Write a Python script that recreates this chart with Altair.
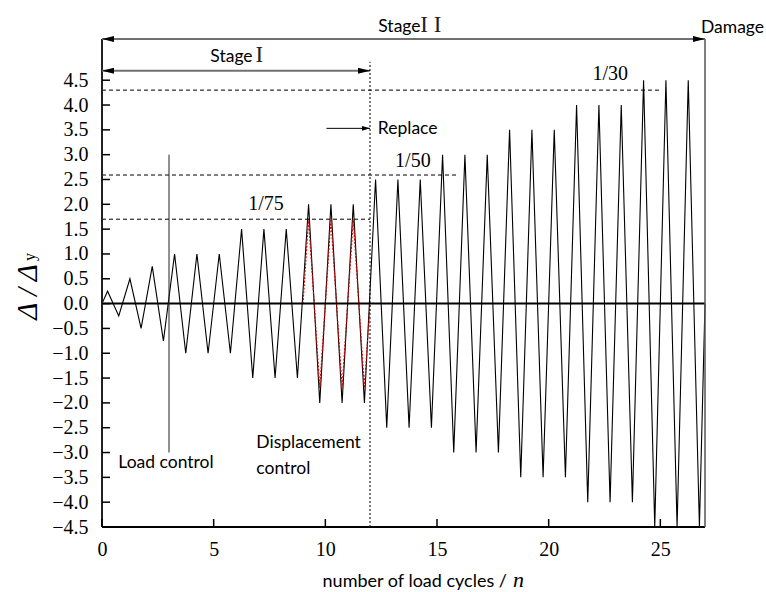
import altair as alt
import pandas as pd

# ---------------- data ----------------
amplitudes = [0.25, 0.5, 0.75, 1.0, 1.0, 1.0, 1.5, 1.5, 1.5, 2.0, 2.0, 2.0,
              2.5, 2.5, 2.5, 3.0, 3.0, 3.0, 3.5, 3.5, 3.5, 4.0, 4.0, 4.0,
              4.5, 4.5, 4.5]
peak_phase = 0.25
trough_phase = 0.75
red_cycles = [9, 10, 11]
red_amp = 1.7

ref_levels = [1.7, 2.59, 4.3]
ref_ends = [12.0, 15.9, 25.05]

drift_labels = ["1/75", "1/50", "1/30"]
drift_x = [7.34, 13.92, 22.76]
drift_y = [1.89, 2.76, 4.50]

sans_labels = ["Replace", "Load control", "Displacement", "control", "Damage", "Stage", "Stage"]
sans_x = [12.35, 0.73, 6.91, 6.91, 26.82, 4.85, 12.37]
sans_y = [3.42, -3.32, -2.91, -3.43, 5.45, 4.87, 5.48]

roman_labels = ["I", "I I"]
roman_x = [6.87, 14.25]
roman_y = [4.87, 5.48]

x_ticks = [0, 5, 10, 15, 20, 25]
y_ticks = [-4.5, -4.0, -3.5, -3.0, -2.5, -2.0, -1.5, -1.0, -0.5, 0.0,
           0.5, 1.0, 1.5, 2.0, 2.5, 3.0, 3.5, 4.0, 4.5]

X_MIN, X_MAX = 0, 27
Y_MIN, Y_TOP = -4.5, 5.33
stage1_end, stage1_y = 12, 4.69
stage2_y = Y_TOP
switch_x, switch_top = 12, 4.87
load_x, load_lo, load_hi = 3, -3.0, 3.0
replace_x0, replace_x1, replace_y = 10.05, 12, 3.53

# ---------------- tables ----------------
pts = [(0.0, 0.0)]
for i, a in enumerate(amplitudes):
    pts.append((i + peak_phase, a))
    pts.append((i + trough_phase, -a))
pts.append((float(len(amplitudes)), 0.0))
df_line = pd.DataFrame(pts, columns=["x", "y"])

rpts = [(float(red_cycles[0]), 0.0)]
for c in red_cycles:
    rpts.append((c + peak_phase, red_amp))
    rpts.append((c + trough_phase, -red_amp))
rpts.append((float(red_cycles[-1] + 1), 0.0))
df_red = pd.DataFrame(rpts, columns=["x", "y"])

xs = alt.Scale(domain=[X_MIN, X_MAX], nice=False, zero=False)
ys = alt.Scale(domain=[Y_MIN, Y_TOP], nice=False, zero=False)

SERIF = "Liberation Serif"
SANS = "Lato"

x_axis = alt.Axis(values=x_ticks, format="d", domain=False, ticks=False, grid=False,
                  labelFont=SERIF, labelFontSize=20, labelColor="black", labelPadding=12,
                  labelFlush=False, labelOverlap=False, title=None)
y_axis = alt.Axis(values=y_ticks, domain=False, ticks=False, grid=False,
                  labelExpr="replace(format(datum.value, '.1f'), '-', '\u2212')",
                  labelFont=SERIF, labelFontSize=20, labelColor="black", labelPadding=14,
                  labelFlush=False, labelOverlap=False, title=None)


def X(f="x"):
    return alt.X(f"{f}:Q", scale=xs, axis=x_axis)


def Y(f="y"):
    return alt.Y(f"{f}:Q", scale=ys, axis=y_axis)


main = alt.Chart(df_line).mark_line(color="black", strokeWidth=1.1).encode(x=X(), y=Y())

red = alt.Chart(df_red).mark_line(color="#e00000", strokeWidth=1.2,
                                   strokeDash=[2, 1.5]).encode(x=X(), y=Y())

# dashed reference levels
df_ref = pd.DataFrame({"x": [X_MIN] * len(ref_levels), "x2": ref_ends, "y": ref_levels})
refs = alt.Chart(df_ref).mark_rule(color="black", strokeWidth=1, strokeDash=[4, 3]).encode(
    x=X(), x2="x2:Q", y=Y())

# horizontal solid lines: zero line and bottom axis
df_h = pd.DataFrame({"x": [X_MIN, X_MIN], "x2": [X_MAX, X_MAX], "y": [0.0, Y_MIN]})
hlines = alt.Chart(df_h).mark_rule(color="black", strokeWidth=2).encode(x=X(), x2="x2:Q", y=Y())

# frame verticals
df_left = pd.DataFrame({"x": [X_MIN], "y": [Y_MIN], "y2": [Y_TOP]})
left = alt.Chart(df_left).mark_rule(color="#222", strokeWidth=2).encode(x=X(), y=Y(), y2="y2:Q")
df_right = pd.DataFrame({"x": [X_MAX], "y": [Y_MIN], "y2": [Y_TOP]})
right = alt.Chart(df_right).mark_rule(color="#555", strokeWidth=1.5).encode(x=X(), y=Y(), y2="y2:Q")

# stage arrows
df_stage = pd.DataFrame({"x": [X_MIN, X_MIN], "x2": [X_MAX, stage1_end], "y": [stage2_y, stage1_y]})
stage_lines = alt.Chart(df_stage).mark_rule(color="#707070", strokeWidth=2).encode(
    x=X(), x2="x2:Q", y=Y())
df_headL = pd.DataFrame({"x": [X_MIN, X_MIN], "y": [stage2_y, stage1_y]})
headL = alt.Chart(df_headL).mark_point(
    shape="M0,0 L2,-0.5 L2,0.5 Z", filled=True, color="black", opacity=1, size=144,
    strokeWidth=0).encode(x=X(), y=Y())
df_headR = pd.DataFrame({"x": [X_MAX, stage1_end], "y": [stage2_y, stage1_y]})
headR = alt.Chart(df_headR).mark_point(
    shape="M0,0 L-2,-0.5 L-2,0.5 Z", filled=True, color="black", opacity=1, size=144,
    strokeWidth=0).encode(x=X(), y=Y())

# replace arrow
df_rep = pd.DataFrame({"x": [replace_x0], "x2": [replace_x1], "y": [replace_y]})
rep_line = alt.Chart(df_rep).mark_rule(color="black", strokeWidth=1).encode(x=X(), x2="x2:Q", y=Y())
df_rep_head = pd.DataFrame({"x": [replace_x1], "y": [replace_y]})
rep_head = alt.Chart(df_rep_head).mark_point(
    shape="M0,0 L-2,-0.6 L-2,0.6 Z", filled=True, color="black", opacity=1, size=64,
    strokeWidth=0).encode(x=X(), y=Y())

# vertical dotted switch line and load control line
df_sw = pd.DataFrame({"x": [switch_x], "y": [Y_MIN], "y2": [switch_top]})
switch = alt.Chart(df_sw).mark_rule(color="black", strokeWidth=1, strokeDash=[2, 2]).encode(
    x=X(), y=Y(), y2="y2:Q")
df_load = pd.DataFrame({"x": [load_x], "y": [load_lo], "y2": [load_hi]})
load = alt.Chart(df_load).mark_rule(color="#222", strokeWidth=1).encode(x=X(), y=Y(), y2="y2:Q")

# ticks (inward)
df_yt = pd.DataFrame({"x": [X_MIN] * len(y_ticks), "y": y_ticks})
yt = alt.Chart(df_yt).mark_tick(orient="horizontal", size=8, thickness=1.5, xOffset=4,
                                color="black", opacity=1).encode(x=X(), y=Y())
df_xt = pd.DataFrame({"x": x_ticks, "y": [Y_MIN] * len(x_ticks)})
xt = alt.Chart(df_xt).mark_tick(orient="vertical", size=8, thickness=1.5, yOffset=-4,
                                color="black", opacity=1).encode(x=X(), y=Y())

# text annotations
df_drift = pd.DataFrame({"x": drift_x, "y": drift_y, "t": drift_labels})
drift = alt.Chart(df_drift).mark_text(font=SERIF, fontSize=20, align="center",
                                      baseline="alphabetic", color="black").encode(
    x=X(), y=Y(), text="t:N")
df_sans = pd.DataFrame({"x": sans_x, "y": sans_y, "t": sans_labels})
sans = alt.Chart(df_sans).mark_text(font=SANS, fontSize=17.5, align="left",
                                    baseline="alphabetic", color="black").encode(
    x=X(), y=Y(), text="t:N")
df_rom = pd.DataFrame({"x": roman_x, "y": roman_y, "t": roman_labels})
roman = alt.Chart(df_rom).mark_text(font=SERIF, fontSize=23, align="left",
                                    baseline="alphabetic", color="#222").encode(
    x=X(), y=Y(), text="t:N")

# axis titles
df_one = pd.DataFrame({"d": [0]})
ytitle = alt.Chart(df_one).mark_text(text="Δ / Δ", font=SERIF, fontStyle="italic", fontSize=29,
                                     angle=270, align="center", baseline="alphabetic",
                                     color="black").encode(x=alt.value(-65), y=alt.value(253))
ysub = alt.Chart(df_one).mark_text(text="y", font=SERIF, fontSize=16, angle=270, align="center",
                                   baseline="alphabetic", color="black").encode(
    x=alt.value(-67), y=alt.value(218))
xtitle = alt.Chart(df_one).mark_text(text="number of load cycles /", font=SANS, fontSize=18,
                                     align="right", baseline="alphabetic", color="black").encode(
    x=alt.value(405), y=alt.value(548))
xtitle_n = alt.Chart(df_one).mark_text(text="n", font=SERIF, fontStyle="italic", fontSize=22,
                                       align="left", baseline="alphabetic", color="black").encode(
    x=alt.value(411), y=alt.value(548))

chart = alt.layer(
    main, red, refs, hlines, left, right, stage_lines, headL, headR, rep_line, rep_head,
    switch, load, yt, xt, drift, sans, roman, ytitle, ysub, xtitle, xtitle_n
).properties(
    width=603, height=488,
    autosize=alt.AutoSizeParams(type="none"),
    padding={"left": 102, "top": 39, "right": 61, "bottom": 65},
    background="white",
).configure_view(stroke=None)

chart.save("out.html", embed_options={"renderer": "svg", "actions": False})
